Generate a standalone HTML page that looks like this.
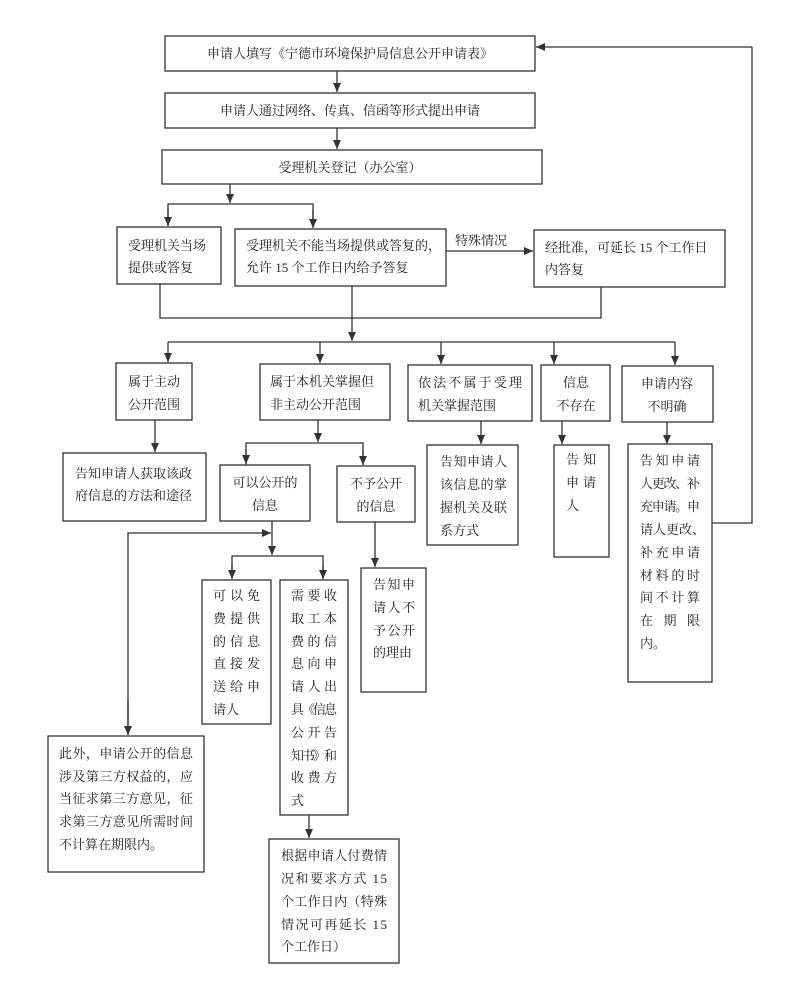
<!DOCTYPE html>
<html><head><meta charset="utf-8"><style>
html,body{margin:0;padding:0;background:#fff;}
svg{display:block;}
text{font-family:"Liberation Serif","Noto Serif CJK SC",serif;font-size:13px;fill:#222;}
rect{fill:#fff;stroke:#333;stroke-width:1.3;}
line,polyline{stroke:#333;stroke-width:1.3;fill:none;}
</style></head><body>
<svg width="800" height="990" viewBox="0 0 800 990" xmlns="http://www.w3.org/2000/svg">
<defs><marker id="a" markerWidth="10" markerHeight="10" refX="9" refY="5" orient="auto" markerUnits="userSpaceOnUse"><path d="M0,1 L9,5 L0,9 z" fill="#333"/></marker></defs>

<!-- top boxes -->
<rect x="165" y="36" width="370" height="35"/>
<text x="350" y="58" text-anchor="middle">申请人填写《宁德市环境保护局信息公开申请表》</text>
<line x1="337" y1="71" x2="337" y2="92" marker-end="url(#a)"/>
<rect x="165" y="93" width="370" height="35"/>
<text x="350" y="115" text-anchor="middle">申请人通过网络、传真、信函等形式提出申请</text>
<line x1="337" y1="128" x2="337" y2="149" marker-end="url(#a)"/>
<rect x="162" y="150" width="380" height="34"/>
<text x="350" y="172" text-anchor="middle">受理机关登记（办公室）</text>
<line x1="230" y1="184" x2="230" y2="203" marker-end="url(#a)"/>
<polyline points="168,226 168,204 313,204 313,226"/>
<line x1="168" y1="210" x2="168" y2="226" marker-end="url(#a)"/>
<line x1="313" y1="210" x2="313" y2="228" marker-end="url(#a)"/>

<rect x="117" y="227" width="104" height="57"/>
<text x="128" y="250">受理机关当场</text><text x="128" y="272">提供或答复</text>
<rect x="235" y="229" width="211" height="57"/>
<text x="246" y="250">受理机关不能当场提供或答复的，</text><text x="246" y="272">允许 15 个工作日内给予答复</text>
<line x1="446" y1="251" x2="533" y2="251" marker-end="url(#a)"/>
<text x="455" y="245">特殊情况</text>
<rect x="534" y="230" width="191" height="57"/>
<text x="545" y="252">经批准，可延长 15 个工作日</text><text x="545" y="274">内答复</text>

<polyline points="160,284 160,318 601,318 601,287"/>
<line x1="352" y1="286" x2="352" y2="341" marker-end="url(#a)"/>
<line x1="168" y1="342" x2="675" y2="342"/>
<line x1="168" y1="342" x2="168" y2="362" marker-end="url(#a)"/>
<line x1="320" y1="342" x2="320" y2="363" marker-end="url(#a)"/>
<line x1="441" y1="342" x2="441" y2="364" marker-end="url(#a)"/>
<line x1="554" y1="342" x2="554" y2="364" marker-end="url(#a)"/>
<line x1="675" y1="342" x2="675" y2="365" marker-end="url(#a)"/>

<rect x="116" y="363" width="76" height="57"/>
<text x="154" y="386" text-anchor="middle">属于主动</text><text x="154" y="409" text-anchor="middle">公开范围</text>
<rect x="260" y="364" width="130" height="56"/>
<text x="270" y="386">属于本机关掌握但</text><text x="270" y="409">非主动公开范围</text>
<rect x="408" y="365" width="124" height="56"/>
<text x="418" y="387" textLength="104">依法不属于受理</text><text x="418" y="410">机关掌握范围</text>
<rect x="541" y="365" width="69" height="56"/>
<text x="576" y="387" text-anchor="middle">信息</text><text x="576" y="410" text-anchor="middle">不存在</text>
<rect x="622" y="366" width="91" height="56"/>
<text x="667" y="388" text-anchor="middle">申请内容</text><text x="667" y="411" text-anchor="middle">不明确</text>

<line x1="155" y1="420" x2="155" y2="452" marker-end="url(#a)"/>
<rect x="63" y="453" width="143" height="68"/>
<text x="75" y="478">告知申请人获取该政</text><text x="75" y="500">府信息的方法和途径</text>

<line x1="318" y1="420" x2="318" y2="442" marker-end="url(#a)"/>
<polyline points="246,465 246,443 363,443 363,465"/>
<line x1="246" y1="450" x2="246" y2="464" marker-end="url(#a)"/>
<line x1="363" y1="450" x2="363" y2="465" marker-end="url(#a)"/>
<rect x="220" y="465" width="90" height="56"/>
<text x="265" y="487" text-anchor="middle">可以公开的</text><text x="265" y="510" text-anchor="middle">信息</text>
<rect x="337" y="466" width="78" height="56"/>
<text x="376" y="488" text-anchor="middle">不予公开</text><text x="376" y="511" text-anchor="middle">的信息</text>

<line x1="481" y1="421" x2="481" y2="444" marker-end="url(#a)"/>
<rect x="427" y="445" width="91" height="100"/>
<text x="440" y="466" textLength="67">告知申请人</text><text x="440" y="489" textLength="67">该信息的掌</text><text x="440" y="512" textLength="67">握机关及联</text><text x="440" y="535">系方式</text>

<line x1="562" y1="421" x2="562" y2="444" marker-end="url(#a)"/>
<rect x="554" y="445" width="55" height="112"/>
<text x="566" y="464" textLength="30">告知</text><text x="566" y="487" textLength="30">申请</text><text x="566" y="510">人</text>

<line x1="667" y1="422" x2="667" y2="444" marker-end="url(#a)"/>
<rect x="628" y="444" width="84" height="238"/>
<text x="640" y="465" textLength="60">告知申请</text><text x="640" y="488" textLength="60">人更改、补</text><text x="640" y="511" textLength="60">充申请。申</text><text x="640" y="534">请人更改、</text><text x="640" y="557" textLength="60">补充申请</text><text x="640" y="580" textLength="60">材料的时</text><text x="640" y="602" textLength="60">间不计算</text><text x="640" y="625" textLength="60">在期限</text><text x="640" y="648">内。</text>
<polyline points="712,523 752,523 752,47"/>
<line x1="752" y1="47" x2="536" y2="47" marker-end="url(#a)"/>

<!-- B1 children -->
<line x1="272" y1="521" x2="272" y2="555" marker-end="url(#a)"/>
<polyline points="128,735 128,533 262,533"/>
<line x1="262" y1="533" x2="271" y2="533" marker-end="url(#a)"/>
<line x1="128" y1="700" x2="128" y2="735" marker-end="url(#a)"/>
<polyline points="232,579 232,556 323,556 323,579"/>
<line x1="232" y1="565" x2="232" y2="579" marker-end="url(#a)"/>
<line x1="323" y1="565" x2="323" y2="579" marker-end="url(#a)"/>
<rect x="202" y="580" width="69" height="144"/>
<text x="213" y="600" textLength="47">可以免</text><text x="213" y="623" textLength="47">费提供</text><text x="213" y="646" textLength="47">的信息</text><text x="213" y="668" textLength="47">直接发</text><text x="213" y="691" textLength="47">送给申</text><text x="213" y="714">请人</text>
<rect x="280" y="580" width="68" height="235"/>
<text x="291" y="600" textLength="46">需要收</text><text x="291" y="623" textLength="46">取工本</text><text x="291" y="646" textLength="46">费的信</text><text x="291" y="668" textLength="46">息向申</text><text x="291" y="691" textLength="46">请人出</text><text x="291" y="714" textLength="46">具《信息</text><text x="291" y="737" textLength="46">公开告</text><text x="291" y="760" textLength="46">知书》和</text><text x="291" y="782" textLength="46">收费方</text><text x="291" y="805">式</text>

<line x1="375" y1="522" x2="375" y2="567" marker-end="url(#a)"/>
<rect x="361" y="568" width="65" height="124"/>
<text x="373" y="589" textLength="42">告知申</text><text x="373" y="612" textLength="42">请人不</text><text x="373" y="635" textLength="42">予公开</text><text x="373" y="657">的理由</text>

<rect x="48" y="736" width="156" height="136"/>
<text x="59" y="758" textLength="134">此外，申请公开的信息</text><text x="59" y="781" textLength="134">涉及第三方权益的，应</text><text x="59" y="803" textLength="134">当征求第三方意见，征</text><text x="59" y="826" textLength="134">求第三方意见所需时间</text><text x="59" y="849">不计算在期限内。</text>

<line x1="309" y1="815" x2="309" y2="838" marker-end="url(#a)"/>
<rect x="269" y="839" width="130" height="124"/>
<text x="281" y="860" textLength="106">根据申请人付费情</text><text x="281" y="883" textLength="106">况和要求方式 15</text><text x="281" y="906" textLength="106">个工作日内（特殊</text><text x="281" y="929" textLength="106">情况可再延长 15</text><text x="281" y="951">个工作日）</text>
</svg>
</body></html>
